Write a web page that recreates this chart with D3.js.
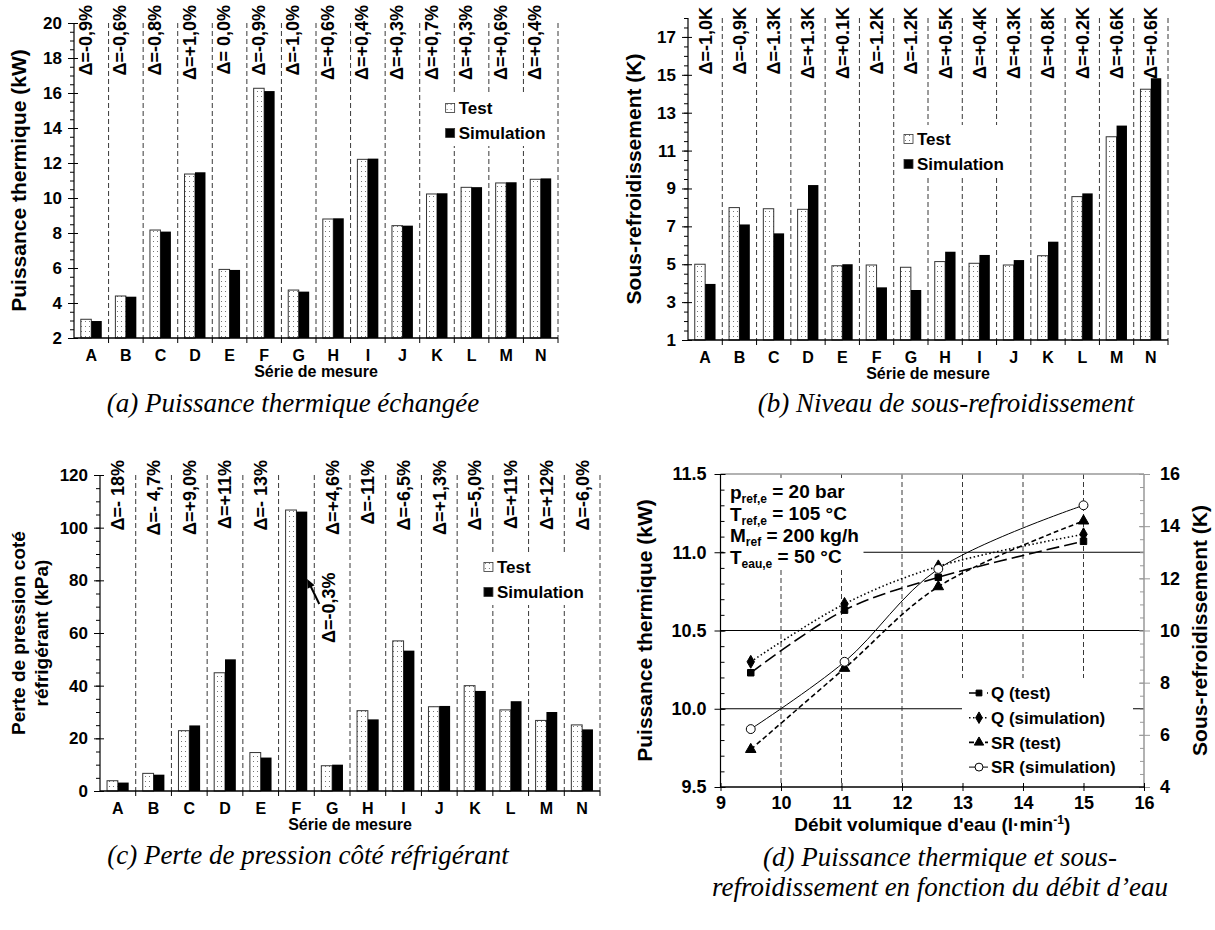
<!DOCTYPE html>
<html>
<head>
<meta charset="utf-8">
<script src="https://cdn.jsdelivr.net/npm/d3@7"></script>
<style>
body { margin: 0; background: #fff; }
svg { font-family: "Liberation Sans", Arial, sans-serif; }
.tick text { font-weight: bold; font-family: "Liberation Sans", Arial, sans-serif; }
.caption { font-family: "Liberation Serif", "Times New Roman", serif; font-style: italic; font-size: 27px; }
</style>
</head>
<body>
<svg id="chart" width="1215" height="930"></svg>
<script>
let categories = ["A", "B", "C", "D", "E", "F", "G", "H", "I", "J", "K", "L", "M", "N"];

// (a) thermal power, kW
let powerTest = [3.07, 4.40, 8.17, 11.37, 5.92, 16.27, 4.74, 8.80, 12.21, 8.42, 10.23, 10.61, 10.86, 11.07];
let powerSim = [2.97, 4.36, 8.08, 11.47, 5.89, 16.11, 4.65, 8.84, 12.25, 8.42, 10.27, 10.62, 10.90, 11.12];
let powerDelta = ["Δ=-0,9%", "Δ=-0,6%", "Δ=-0,8%", "Δ=+1,0%", "Δ= 0,0%", "Δ=-0,9%", "Δ=-1,0%",
  "Δ=+0,6%", "Δ=+0,4%", "Δ=+0,3%", "Δ=+0,7%", "Δ=+0,3%", "Δ=+0,6%", "Δ=+0,4%"];
let powerTicks = [2, 4, 6, 8, 10, 12, 14, 16, 18, 20];

// (b) subcooling, K
let subTest = [5.00, 7.99, 7.93, 7.90, 4.92, 4.96, 4.84, 5.14, 5.05, 4.96, 5.45, 8.57, 11.73, 14.24];
let subSim = [3.96, 7.10, 6.63, 9.18, 5.00, 3.78, 3.64, 5.66, 5.49, 5.22, 6.19, 8.74, 12.32, 14.82];
let subDelta = ["Δ=-1,0K", "Δ=-0,9K", "Δ=-1.3K", "Δ=+1.3K", "Δ=+0.1K", "Δ=-1.2K", "Δ=-1.2K",
  "Δ=+0.5K", "Δ=+0.4K", "Δ=+0.3K", "Δ=+0.8K", "Δ=+0.2K", "Δ=+0.6K", "Δ=+0.6K"];
let subTicks = [1, 3, 5, 7, 9, 11, 13, 15, 17];

// (c) refrigerant pressure drop, kPa
let dropTest = [3.9, 6.7, 22.9, 44.9, 14.6, 106.7, 9.6, 30.5, 57.0, 32.0, 40.0, 30.8, 26.8, 25.1];
let dropSim = [3.2, 6.2, 24.9, 50.0, 12.7, 106.1, 10.0, 27.2, 53.3, 32.3, 38.0, 34.1, 30.0, 23.4];
let dropDelta = ["Δ=- 18%", "Δ=- 4,7%", "Δ=+9,0%", "Δ=+11%", "Δ=- 13%", "", "Δ=+4,6%",
  "Δ=-11%", "Δ=-6,5%", "Δ=+1,3%", "Δ=-5,0%", "Δ=+11%", "Δ=+12%", "Δ=-6,0%"];
let dropNote = "Δ=-0,3%";
let dropTicks = [0, 20, 40, 60, 80, 100, 120];

// (d) against water flow rate
let flowRates = [9.5, 11.05, 12.6, 15.0];
let qTest = [10.23, 10.63, 10.84, 11.07];
let qSim = [10.30, 10.67, 10.91, 11.115];
let srTest = [5.44, 8.55, 11.68, 14.2];
let srSim = [6.22, 8.8, 12.36, 14.8];
let flowTicks = [9, 10, 11, 12, 13, 14, 15, 16];
let qTicks = [9.5, 10.0, 10.5, 11.0, 11.5];
let srTicks = [4, 6, 8, 10, 12, 14, 16];
let conditions = [["p", "ref,e", " = 20 bar"], ["T", "ref,e", " = 105 °C"], ["M", "ref", " = 200 kg/h"], ["T", "eau,e", " = 50 °C"]];
let legendNames = ["Q (test)", "Q (simulation)", "SR (test)", "SR (simulation)"];

let svg = d3.select("#chart");

// fine dotted fill used by the "Test" bars
let pat = svg.append("defs").append("pattern")
  .attr("id", "dots").attr("patternUnits", "userSpaceOnUse")
  .attr("width", 4).attr("height", 5);
pat.append("rect").attr("width", 4).attr("height", 5).attr("fill", "#fff");
pat.append("rect").attr("x", 1).attr("y", 1).attr("width", 1).attr("height", 1).attr("fill", "#777");

function range(a, b, step) {
  return d3.range(Math.round((b - a) / step) + 1).map(i => a + i * step);
}

function barPanel(o) {
  let g = svg.append("g");
  let x = d3.scaleBand().domain(categories).range([o.left, o.right]);
  let step = x.step();
  let inner = d3.scaleBand().domain([0, 1]).range([0, x.bandwidth()]).paddingOuter(0.65);
  let y = d3.scaleLinear().domain(o.domain).range([o.bottom, o.top]);
  let yTop = y(o.domain[1]), yBot = y(o.domain[0]);

  //dashed separators between the series
  g.selectAll(".sep").data(categories).join("line")
    .attr("x1", d => x(d) + step).attr("x2", d => x(d) + step)
    .attr("y1", yTop).attr("y2", yBot)
    .attr("stroke", "#222").attr("stroke-width", 0.9).attr("stroke-dasharray", "5,3");

  g.selectAll(".test").data(o.test).join("rect")
    .attr("x", (d, i) => x(categories[i]) + inner(0)).attr("width", inner.bandwidth())
    .attr("y", d => y(d)).attr("height", d => yBot - y(d))
    .attr("fill", "url(#dots)").attr("stroke", "#333").attr("stroke-width", 1);
  g.selectAll(".sim").data(o.sim).join("rect")
    .attr("x", (d, i) => x(categories[i]) + inner(1)).attr("width", inner.bandwidth())
    .attr("y", d => y(d)).attr("height", d => yBot - y(d))
    .attr("fill", "#000");

  // y axis: minor ticks outside, major ticks crossing
  g.append("g").attr("transform", `translate(${o.left},0)`)
    .call(d3.axisLeft(y).tickValues(range(o.domain[0], o.domain[1], o.minor)).tickSize(4).tickFormat(""))
    .call(s => s.select(".domain").remove());
  let ya = g.append("g").attr("transform", `translate(${o.left},0)`)
    .call(d3.axisLeft(y).tickValues(o.ticks).tickSize(6).tickPadding(6))
    .attr("font-size", 17).attr("font-weight", "bold");
  ya.selectAll(".tick line").attr("x1", 4);
  ya.select(".domain").attr("d", `M0,${yTop}V${yBot}`).attr("stroke-width", 1.2);

  // x axis
  let xa = g.append("g").attr("transform", `translate(0,${yBot})`)
    .call(d3.axisBottom(x).tickSize(0).tickPadding(12))
    .attr("font-size", 16).attr("font-weight", "bold");
  xa.select(".domain").attr("d", `M${o.left},0H${o.right}`).attr("stroke-width", 1.5);
  g.selectAll(".xt").data(categories).join("line")
    .attr("x1", d => x(d) + step).attr("x2", d => x(d) + step)
    .attr("y1", yBot).attr("y2", yBot + 5).attr("stroke", "#000");

  g.append("text").attr("x", (o.left + o.right) / 2).attr("y", yBot + 39)
    .attr("text-anchor", "middle").attr("font-weight", "bold").attr("font-size", 16)
    .text("Série de mesure");

  // vertical axis title
  let t = g.append("text").attr("font-weight", "bold").attr("font-size", o.titleSize)
    .attr("text-anchor", "middle")
    .attr("transform", `translate(${o.titleX},${(yTop + yBot) / 2}) rotate(-90)`);
  o.title.forEach((line, i) => {
    t.append("tspan").attr("x", 0).attr("dy", i == 0 ? `${0.35 - (o.title.length - 1) * 0.6}em` : "1.2em").text(line);
  });

  // deviation labels
  g.selectAll(".delta").data(o.deltas).join("text")
    .attr("transform", (d, i) => `translate(${x(categories[i]) + step / 2 + o.deltaShift * step},${o.deltaTop}) rotate(-90)`)
    .attr("dy", "0.36em").attr("text-anchor", "end")
    .attr("font-weight", "bold").attr("font-size", 18)
    .text(d => d);

  // legend, placed in units of series width
  let lx = o.left + o.legendCell * step;
  let lg = g.append("g").attr("transform", `translate(${lx},${o.legendY})`);
  lg.append("rect").attr("x", -6).attr("y", -14).attr("width", 112).attr("height", 52).attr("fill", "#fff");
  [["Test", "url(#dots)"], ["Simulation", "#000"]].forEach((d, i) => {
    lg.append("rect").attr("x", 0).attr("y", i * 25 - 4.5).attr("width", 9).attr("height", 9)
      .attr("fill", d[1]).attr("stroke", "#333").attr("stroke-width", 0.8);
    lg.append("text").attr("x", 13).attr("y", i * 25).attr("dy", "0.36em")
      .attr("font-weight", "bold").attr("font-size", 17).text(d[0]);
  });

  g.append("text").attr("class", "caption").attr("text-anchor", "middle")
    .attr("x", o.captionX).attr("y", o.captionY).text(o.caption);

  return { g: g, x: x, y: y, inner: inner, step: step };
}

barPanel({
  left: 74, right: 558, top: 23, bottom: 338, domain: [2, 20], ticks: powerTicks, minor: 0.5,
  test: powerTest, sim: powerSim, deltas: powerDelta, deltaTop: 5, deltaShift: -0.17,
  title: ["Puissance thermique (kW)"], titleX: 19, titleSize: 21, legendCell: 10.75, legendY: 108,
  caption: "(a) Puissance thermique échangée", captionX: 293, captionY: 412
});

barPanel({
  left: 688, right: 1168, top: 18, bottom: 340, domain: [1, 18], ticks: subTicks, minor: 0.5,
  test: subTest, sim: subSim, deltas: subDelta, deltaTop: 7, deltaShift: 0,
  title: ["Sous-refroidissement (K)"], titleX: 634, titleSize: 21, legendCell: 6.3, legendY: 139,
  caption: "(b) Niveau de sous-refroidissement", captionX: 946, captionY: 412
});

let pc = barPanel({
  left: 100, right: 600, top: 475, bottom: 791, domain: [0, 120], ticks: dropTicks, minor: 5,
  test: dropTest, sim: dropSim, deltas: dropDelta, deltaTop: 460, deltaShift: 0,
  title: ["Perte de pression coté", "réfrigérant (kPa)"], titleX: 30, titleSize: 19, legendCell: 10.75, legendY: 567,
  caption: "(c) Perte de pression côté réfrigérant", captionX: 308, captionY: 864
});

// note and arrow for series F in (c)
let fb = pc.x("F") + pc.step;
pc.g.append("text")
  .attr("transform", `translate(${fb + 0.4 * pc.step},${pc.y(83)}) rotate(-90)`)
  .attr("dy", "0.36em").attr("text-anchor", "end")
  .attr("font-weight", "bold").attr("font-size", 18).text(dropNote);
let ax1 = fb + 0.14 * pc.step, ay1 = pc.y(71), ax2 = fb - 0.2 * pc.step, ay2 = pc.y(80.5);
let ang = Math.atan2(ay2 - ay1, ax2 - ax1);
pc.g.append("line").attr("x1", ax1).attr("y1", ay1)
  .attr("x2", ax2 - 5 * Math.cos(ang)).attr("y2", ay2 - 5 * Math.sin(ang))
  .attr("stroke", "#000").attr("stroke-width", 2);
pc.g.append("path")
  .attr("transform", `translate(${ax2},${ay2}) rotate(${ang * 180 / Math.PI})`)
  .attr("d", "M0,0L-9,-4L-9,4Z").attr("fill", "#000");

// (d) power and subcooling against water flow rate
let xd = d3.scaleLinear().domain([9, 16]).range([720.5, 1144]);
let yq = d3.scaleLinear().domain([9.5, 11.5]).range([787, 474]);
let ysr = d3.scaleLinear().domain([4, 16]).range([787, 474]);
let gd = svg.append("g");

gd.selectAll(".hgrid").data([10.0, 10.5, 11.0]).join("line")
  .attr("x1", xd(9)).attr("x2", xd(16)).attr("y1", d => yq(d)).attr("y2", d => yq(d))
  .attr("stroke", "#000").attr("stroke-width", 1);
gd.selectAll(".vgrid").data([10, 11, 12, 13, 14, 15]).join("line")
  .attr("x1", d => xd(d)).attr("x2", d => xd(d)).attr("y1", yq(11.5)).attr("y2", yq(9.5))
  .attr("stroke", "#222").attr("stroke-width", 0.9).attr("stroke-dasharray", "5,3");
gd.append("line").attr("x1", xd(9)).attr("x2", xd(16)).attr("y1", yq(11.5)).attr("y2", yq(11.5))
  .attr("stroke", "#999").attr("stroke-width", 1.5);

// white boxes for the conditions and the legend
gd.append("rect").attr("x", xd(9) + 3).attr("y", yq(11.5) + 4).attr("width", 140).attr("height", 92).attr("fill", "#fff");
gd.append("rect").attr("x", 962).attr("y", 678).attr("width", 171).attr("height", yq(9.5) - 679).attr("fill", "#fff");

// axes
let la = gd.append("g").attr("transform", `translate(${xd(9)},0)`)
  .call(d3.axisLeft(yq).tickValues(qTicks).tickFormat(d3.format(".1f")).tickSize(6).tickPadding(8))
  .attr("font-size", 18).attr("font-weight", "bold");
la.selectAll(".tick line").attr("x1", 5);
la.select(".domain").attr("d", `M0,${yq(11.5)}V${yq(9.5)}`).attr("stroke-width", 1.2);
gd.append("g").attr("transform", `translate(${xd(9)},0)`)
  .call(d3.axisRight(yq).tickValues(range(9.5, 11.5, 0.1)).tickSize(4).tickFormat(""))
  .call(s => s.select(".domain").remove());

let ra = gd.append("g").attr("transform", `translate(${xd(16)},0)`)
  .call(d3.axisRight(ysr).tickValues(srTicks).tickSize(6).tickPadding(10))
  .attr("font-size", 18).attr("font-weight", "bold");
ra.selectAll(".tick line").attr("x1", -5).attr("stroke", "#999");
ra.select(".domain").attr("d", `M0,${ysr(16)}V${ysr(4)}`).attr("stroke", "#999").attr("stroke-width", 1.5);
gd.append("g").attr("transform", `translate(${xd(16)},0)`)
  .call(d3.axisLeft(ysr).tickValues(range(4, 16, 0.5)).tickSize(4).tickFormat(""))
  .call(s => { s.select(".domain").remove(); s.selectAll("line").attr("stroke", "#999"); });

let ba = gd.append("g").attr("transform", `translate(0,${yq(9.5)})`)
  .call(d3.axisBottom(xd).tickValues(flowTicks).tickFormat(d3.format("d")).tickSize(4).tickPadding(5))
  .attr("font-size", 18).attr("font-weight", "bold");
ba.selectAll(".tick line").attr("y1", -4);
ba.select(".domain").attr("d", `M${xd(9)},0H${xd(16)}`).attr("stroke-width", 1.5);

// series
let series = [
  { values: qTest, scale: yq, dash: "13,5", width: 1.6, symbol: d3.symbolSquare, size: 42, fill: "#000" },
  { values: qSim, scale: yq, dash: "1.5,2.5", width: 1.6, symbol: d3.symbolDiamond, size: 48, fill: "#000" },
  { values: srTest, scale: ysr, dash: "5,3", width: 1.6, symbol: d3.symbolTriangle, size: 48, fill: "#000" },
  { values: srSim, scale: ysr, dash: null, width: 1, symbol: d3.symbolCircle, size: 62, fill: "#fff" }
];

series.forEach((s, k) => {
  let line = d3.line().curve(d3.curveCatmullRom.alpha(0.5))
    .x((d, i) => xd(flowRates[i])).y(d => s.scale(d));
  gd.append("path").datum(s.values).attr("d", line)
    .attr("fill", "none").attr("stroke", "#000").attr("stroke-width", s.width)
    .attr("stroke-dasharray", s.dash);
  gd.selectAll(".m" + k).data(s.values).join("path")
    .attr("transform", (d, i) => `translate(${xd(flowRates[i])},${s.scale(d)})`)
    .attr("d", d3.symbol(s.symbol, s.size))
    .attr("fill", s.fill).attr("stroke", "#000").attr("stroke-width", 1);

  // legend row
  let ly = 693 + k * 24.7;
  gd.append("line").attr("x1", 969).attr("x2", 988).attr("y1", ly).attr("y2", ly)
    .attr("stroke", "#000").attr("stroke-width", s.width).attr("stroke-dasharray", s.dash);
  gd.append("path").attr("transform", `translate(979,${ly})`)
    .attr("d", d3.symbol(s.symbol, s.size * 0.8))
    .attr("fill", s.fill).attr("stroke", "#000").attr("stroke-width", 1);
  gd.append("text").attr("x", 991).attr("y", ly).attr("dy", "0.36em")
    .attr("font-weight", "bold").attr("font-size", 17).text(legendNames[k]);
});

// conditions text box
conditions.forEach((c, i) => {
  let t = gd.append("text").attr("x", 730).attr("y", 492 + i * 21.7).attr("dy", "0.36em")
    .attr("font-weight", "bold").attr("font-size", 19);
  t.append("tspan").text(c[0]);
  t.append("tspan").attr("font-size", 12).attr("dy", "0.35em").text(c[1]);
  t.append("tspan").attr("dy", "-0.25em").text(c[2]);
});

// axis titles
gd.append("text").attr("transform", `translate(645,${(yq(11.5) + yq(9.5)) / 2}) rotate(-90)`)
  .attr("text-anchor", "middle").attr("dy", "0.35em").attr("font-weight", "bold").attr("font-size", 21)
  .text("Puissance thermique (kW)");
gd.append("text").attr("transform", `translate(1200,${(yq(11.5) + yq(9.5)) / 2}) rotate(-90)`)
  .attr("text-anchor", "middle").attr("dy", "0.35em").attr("font-weight", "bold").attr("font-size", 21)
  .text("Sous-refroidissement (K)");
let xt = gd.append("text").attr("x", (xd(9) + xd(16)) / 2).attr("y", 831)
  .attr("text-anchor", "middle").attr("font-weight", "bold").attr("font-size", 19);
xt.append("tspan").text("Débit volumique d'eau (l·min");
xt.append("tspan").attr("font-size", 12).attr("dy", "-0.6em").text("-1");
xt.append("tspan").attr("dy", "0.4em").text(")");

gd.append("text").attr("class", "caption").attr("text-anchor", "middle")
  .attr("x", 940).attr("y", 866).text("(d) Puissance thermique et sous-");
gd.append("text").attr("class", "caption").attr("text-anchor", "middle")
  .attr("x", 940).attr("y", 896).text("refroidissement en fonction du débit d’eau");
</script>
</body>
</html>
